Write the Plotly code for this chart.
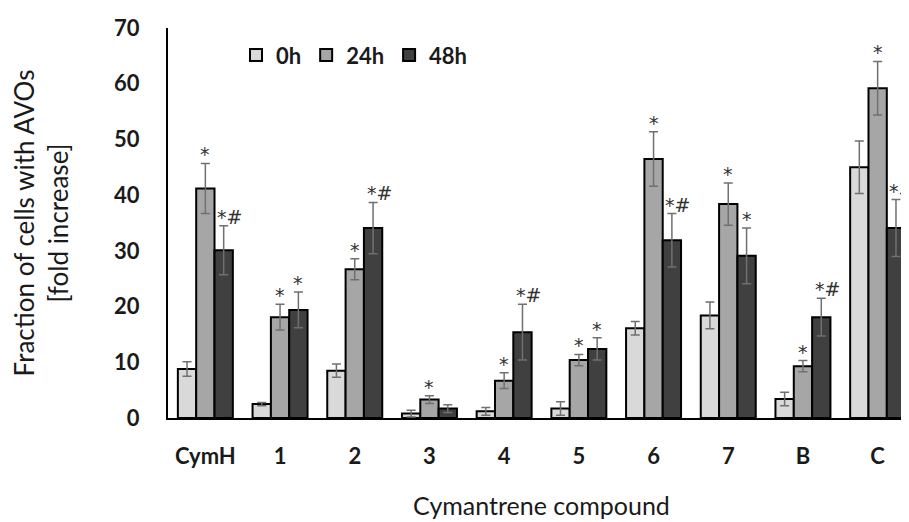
import plotly.graph_objects as go

categories = ["CymH", "1", "2", "3", "4", "5", "6", "7", "B", "C"]
series_names = ["0h", "24h", "48h"]

vals_0h = [8.8, 2.5, 8.5, 0.8, 1.2, 1.7, 16.1, 18.4, 3.4, 45.0]
vals_24h = [41.2, 18.1, 26.7, 3.3, 6.7, 10.4, 46.5, 38.4, 9.3, 59.2]
vals_48h = [30.1, 19.4, 34.1, 1.7, 15.4, 12.4, 31.9, 29.1, 18.1, 34.1]

err_0h = [1.3, 0.3, 1.2, 0.6, 0.7, 1.2, 1.2, 2.4, 1.2, 4.7]
err_24h = [4.5, 2.3, 1.9, 0.7, 1.4, 1.0, 4.9, 3.8, 1.0, 4.8]
err_48h = [4.4, 3.2, 4.6, 0.7, 5.0, 2.0, 4.8, 5.0, 3.4, 5.1]

sig_0h = [""] * 10
sig_24h = ["*", "*", "*", "*", "*", "*", "*", "*", "*", "*"]
sig_48h = ["*#", "*", "*#", "", "*#", "*", "*#", "*", "*#", "*#"]

y_ticks = [0, 10, 20, 30, 40, 50, 60, 70]

colors = ["#d9d9d9", "#a6a6a6", "#404040"]
FONT = "Lato"
BARGAP = 0.264

values = [vals_0h, vals_24h, vals_48h]
errors = [err_0h, err_24h, err_48h]
sigs = [sig_0h, sig_24h, sig_48h]

W, H = 909, 522
ML, MR, MT, MB = 160, 2, 19.5, 112
plot_w = W - ML - MR
cat_px = plot_w / len(categories)
bar_px = cat_px * (1 - BARGAP) / len(series_names)

fig = go.Figure()
for i, name in enumerate(series_names):
    fig.add_trace(go.Bar(
        x=categories, y=values[i], name=name,
        marker=dict(color=colors[i], line=dict(color="black", width=2)),
        error_y=dict(type="data", array=errors[i], visible=True,
                     color="#707070", thickness=1.5, width=4.5),
    ))

for i in range(len(series_names)):
    for c, v, e, s in zip(categories, values[i], errors[i], sigs[i]):
        if not s:
            continue
        fig.add_annotation(
            x=c, y=v + e, text=s, showarrow=False,
            xanchor="center", yanchor="bottom",
            xshift=(i - 1) * bar_px + (6 if len(s) > 1 else 0), yshift=-4,
            font=dict(family="DejaVu Sans", size=19, color="#333333"),
        )

fig.update_layout(
    width=W, height=H,
    margin=dict(l=ML, r=MR, t=MT, b=MB),
    paper_bgcolor="white", plot_bgcolor="white",
    barmode="group", bargap=BARGAP, bargroupgap=0,
    font=dict(family=FONT, color="#1a1a1a"),
    showlegend=True,
    legend=dict(orientation="h", x=0.091, y=0.93, xanchor="left", yanchor="middle",
                font=dict(family=FONT, size=22, weight="bold"),
                bgcolor="rgba(0,0,0,0)", itemclick=False, traceorder="normal"),
    xaxis=dict(
        range=[-0.5, 9.5], showline=True, linecolor="black", linewidth=2,
        ticks="", showgrid=False, zeroline=False,
        tickfont=dict(family=FONT, size=22, weight="bold", color="#1a1a1a"),
        ticklabelstandoff=18,
        title=dict(text="Cymantrene compound", standoff=29,
                   font=dict(family=FONT, size=25)),
    ),
    yaxis=dict(
        range=[0, 70], tickvals=y_ticks, showline=True, linecolor="black", linewidth=2,
        ticks="", showgrid=False, zeroline=False,
        tickfont=dict(family=FONT, size=22, weight="bold", color="#1a1a1a"),
        ticklabelstandoff=22,
        title=dict(text="Fraction of cells with AVOs<br>[fold increase]", standoff=44,
                   font=dict(family=FONT, size=26)),
    ),
)

fig.write_html("out.html")
